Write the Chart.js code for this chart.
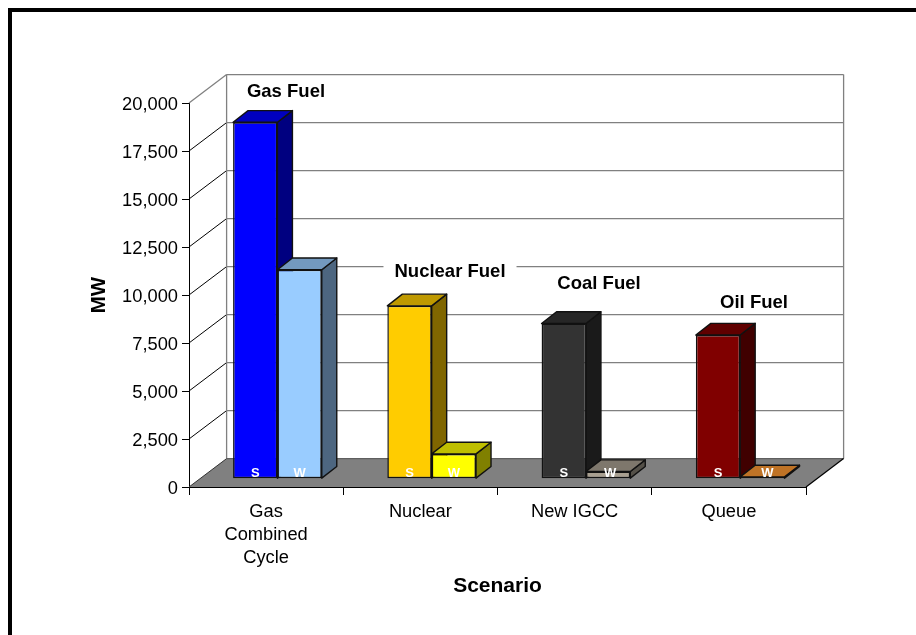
<!DOCTYPE html>
<html>
<head>
<meta charset="utf-8">
<title>MW by Scenario</title>
<style>
    html, body { margin: 0; padding: 0; background: #fff; overflow: hidden; }
    #page { position: relative; width: 916px; height: 635px; }
    #frame { position: absolute; left: 8px; top: 8px; width: 908px; height: 627px; box-sizing: border-box;
             border-left: 4px solid #000; border-top: 4px solid #000; }
    canvas { position: absolute; left: 0; top: 0; }
</style>
<script src="https://cdn.jsdelivr.net/npm/chart.js@4"></script>
</head>
<body>
<div id="page">
    <canvas id="scenario-chart" width="916" height="635"></canvas>
    <div id="frame"></div>
</div>
<script>
// Data
const categories = [["Gas", "Combined", "Cycle"], "Nuclear", "New IGCC", "Queue"];
const summerMW = [18560, 9000, 8080, 7480];
const winterMW = [10880, 1290, 370, 90];
const yTicks = [0, 2500, 5000, 7500, 10000, 12500, 15000, 17500, 20000];
const summerColors = ["#0000FF", "#FFCC00", "#333333", "#800000"];
const winterColors = ["#99CCFF", "#FFFF00", "#A89F90", "#FF9933"];
const fuelLabels = ["Gas Fuel", "Nuclear Fuel", "Coal Fuel", "Oil Fuel"];

const FONT = '"Liberation Sans", Arial, sans-serif';

// depth of the box, and of the bars standing in the middle of it
const BOX_DX = 37.6, BOX_DY = 28.4;
const BAR_DX = 15, BAR_DY = 11.7;
const FRONT_DX = (BOX_DX - BAR_DX) / 2, FRONT_DY = (BOX_DY - BAR_DY) / 2;

// where the fuel captions sit (centre x, centre y)
const fuelLabelX = [286, 450, 599, 754];
const fuelLabelY = [92, 272, 284, 303];
// the small W tags were moved right a bit on the low bars
const winterTagNudge = [0, 0, 2, 5];

function shade(hex, k) {
    const n = parseInt(hex.slice(1), 16);
    const r = Math.round((n >> 16 & 255) * k);
    const g = Math.round((n >> 8 & 255) * k);
    const b = Math.round((n & 255) * k);
    return `rgb(${r},${g},${b})`;
}

function poly(ctx, pts, fill, stroke, lw) {
    ctx.beginPath();
    pts.forEach((p, i) => i ? ctx.lineTo(p[0], p[1]) : ctx.moveTo(p[0], p[1]));
    ctx.closePath();
    if (fill) { ctx.fillStyle = fill; ctx.fill(); }
    if (stroke) { ctx.strokeStyle = stroke; ctx.lineWidth = lw; ctx.lineJoin = "round"; ctx.stroke(); }
}

function line(ctx, x1, y1, x2, y2, color, lw) {
    ctx.beginPath();
    ctx.moveTo(x1, y1);
    ctx.lineTo(x2, y2);
    ctx.strokeStyle = color;
    ctx.lineWidth = lw;
    ctx.stroke();
}

// walls, floor and gridlines behind the bars
function drawBox(chart) {
    const ctx = chart.ctx, a = chart.chartArea, y = chart.scales.y;
    const xb = a.left + BOX_DX, xr = a.right + BOX_DX;
    const topY = y.getPixelForValue(20000), zeroY = y.getPixelForValue(0);

    yTicks.forEach(v => {
        const py = y.getPixelForValue(v);
        const top = v === 20000;
        if (v > 0) {
            line(ctx, a.left, py, xb, py - BOX_DY, top ? "#808080" : "#000", top ? 1.3 : 1);
            line(ctx, xb, py - BOX_DY, xr, py - BOX_DY, "#808080", 1.3);
        }
    });
    line(ctx, xb, topY - BOX_DY, xb, zeroY - BOX_DY, "#808080", 1.3);
    line(ctx, xr, topY - BOX_DY, xr, zeroY - BOX_DY, "#808080", 1.3);

    // floor
    poly(ctx, [[a.left, zeroY], [a.right, zeroY], [xr, zeroY - BOX_DY], [xb, zeroY - BOX_DY]], "#808080");
    line(ctx, xb, zeroY - BOX_DY, xr, zeroY - BOX_DY, "#5f5f5f", 1.3);
    line(ctx, a.left, zeroY, xb, zeroY - BOX_DY, "#333", 1);
    line(ctx, a.right, zeroY, xr, zeroY - BOX_DY, "#000", 1.2);
}

function drawFuelLabels(chart) {
    const ctx = chart.ctx;
    ctx.font = "bold 18.5px " + FONT;
    ctx.textAlign = "center";
    ctx.textBaseline = "middle";
    fuelLabels.forEach((t, i) => {
        const w = ctx.measureText(t).width + 22;
        ctx.fillStyle = "#fff";
        ctx.fillRect(fuelLabelX[i] - w / 2, fuelLabelY[i] - 11, w, 20);
        ctx.fillStyle = "#000";
        ctx.fillText(t, fuelLabelX[i], fuelLabelY[i]);
    });
}

// top and side faces, the fronts come from the bar elements themselves
function drawBarDepth(chart) {
    const ctx = chart.ctx;
    chart.data.datasets.forEach((ds, d) => {
        chart.getDatasetMeta(d).data.forEach((bar, i) => {
            const color = ds.backgroundColor[i];
            const l = bar.x - bar.width / 2 + FRONT_DX, r = bar.x + bar.width / 2 + FRONT_DX;
            const t = bar.y - FRONT_DY, b = bar.base - FRONT_DY;
            poly(ctx, [[r, t], [r + BAR_DX, t - BAR_DY], [r + BAR_DX, b - BAR_DY], [r, b]],
                shade(color, 0.5), "#111", 1.4);
            poly(ctx, [[l, t], [r, t], [r + BAR_DX, t - BAR_DY], [l + BAR_DX, t - BAR_DY]],
                shade(color, 0.75), "#111", 1.4);
        });
    });
}

function drawSeasonTags(chart) {
    const ctx = chart.ctx;
    ctx.font = "bold 13px " + FONT;
    ctx.textAlign = "center";
    ctx.textBaseline = "middle";
    ctx.fillStyle = "#fff";
    const tags = ["S", "W"];
    chart.data.datasets.forEach((ds, d) => {
        chart.getDatasetMeta(d).data.forEach((bar, i) => {
            const nudge = d === 1 ? winterTagNudge[i] : 0;
            ctx.fillText(tags[d], bar.x + FRONT_DX + nudge, bar.base - FRONT_DY - 4.5);
        });
    });
}

const box3d = {
    id: "box3d",
    beforeDatasetsDraw(chart) {
        drawBox(chart);
        drawFuelLabels(chart);
        drawBarDepth(chart);
        chart.ctx.save();
        chart.ctx.translate(FRONT_DX, -FRONT_DY);
    },
    afterDatasetsDraw(chart) {
        chart.ctx.restore();
        drawSeasonTags(chart);
    }
};

new Chart(document.getElementById("scenario-chart"), {
    type: "bar",
    data: {
        labels: categories,
        datasets: [
            { label: "S", data: summerMW, backgroundColor: summerColors },
            { label: "W", data: winterMW, backgroundColor: winterColors }
        ]
    },
    plugins: [box3d],
    options: {
        responsive: false,
        animation: false,
        clip: false,
        layout: { padding: { left: 87, right: 110, top: 103, bottom: 36 } },
        plugins: { legend: { display: false }, tooltip: { enabled: false } },
        datasets: {
            bar: {
                categoryPercentage: 0.575,
                barPercentage: 1,
                borderWidth: 1.5,
                borderColor: "#111",
                borderSkipped: false,
                order: 0
            }
        },
        scales: {
            x: {
                offset: true,
                afterFit(s) { s.height = 112; },
                grid: { offset: true, drawOnChartArea: false, drawTicks: true, tickLength: 8, tickColor: "#000" },
                border: { color: "#000", width: 1 },
                ticks: {
                    color: "#000",
                    maxRotation: 0,
                    autoSkip: false,
                    padding: 5,
                    font: { family: FONT, size: 18.3, lineHeight: 1.265 }
                },
                title: {
                    display: true,
                    text: "Scenario",
                    color: "#000",
                    padding: { top: 0, bottom: 0 },
                    font: { family: FONT, size: 21, weight: "bold" }
                }
            },
            y: {
                min: 0,
                max: 20000,
                afterBuildTicks(s) { s.ticks = yTicks.map(v => ({ value: v })); },
                afterFit(s) { s.width = 102; },
                grid: { drawOnChartArea: false, drawTicks: true, tickLength: 7, tickColor: "#000" },
                border: { color: "#000", width: 1 },
                ticks: {
                    color: "#000",
                    padding: 4,
                    labelOffset: 1.5,
                    font: { family: FONT, size: 18.3 },
                    callback: v => v.toLocaleString("en-US")
                },
                title: {
                    display: true,
                    text: "MW",
                    color: "#000",
                    padding: { top: 0, bottom: 0 },
                    font: { family: FONT, size: 20.5, weight: "bold" }
                }
            }
        }
    }
});
</script>
</body>
</html>
